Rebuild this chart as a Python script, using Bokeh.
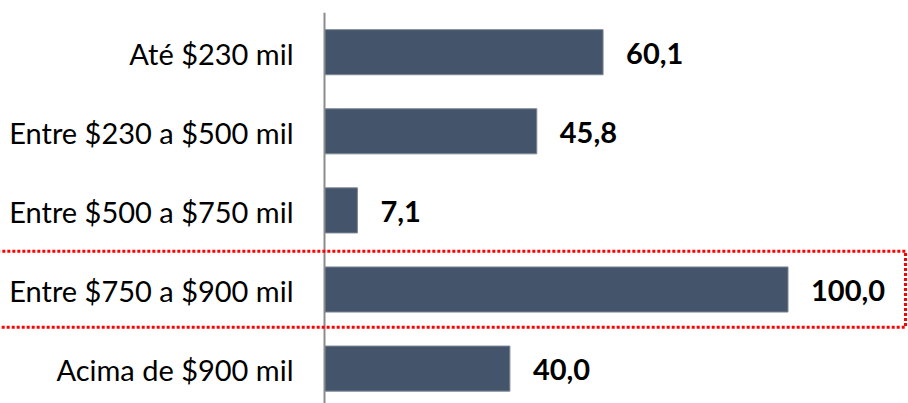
from bokeh.plotting import figure
from bokeh.models import Range1d, ColumnDataSource
from bokeh.core.properties import value
from bokeh.embed import file_html
from bokeh.resources import INLINE

categories = ["Até $230 mil", "Entre $230 a $500 mil", "Entre $500 a $750 mil",
              "Entre $750 a $900 mil", "Acima de $900 mil"]
values = [60.1, 45.8, 7.1, 100.0, 40.0]
value_labels = ["60,1", "45,8", "7,1", "100,0", "40,0"]
highlight = "Entre $750 a $900 mil"

W, H = 908, 403
PX_PER_UNIT = 4.635
AXIS_PX = 324          # axis position inside canvas
ROW_PX = 79.1
TOP_PX = 51.7          # first row center from canvas top

x0 = -AXIS_PX / PX_PER_UNIT
x1 = x0 + W / PX_PER_UNIT
y_top = -TOP_PX / ROW_PX
y_bot = y_top + H / ROW_PX

idx = list(range(len(categories)))
src = ColumnDataSource(dict(y=idx, v=values, cat=categories, lab=value_labels))

p = figure(width=W, height=H, output_backend="svg", toolbar_location=None,
           x_range=Range1d(x0, x1), y_range=Range1d(y_bot, y_top),
           min_border=0, min_border_left=0, min_border_right=0,
           min_border_top=0, min_border_bottom=0)
p.axis.visible = False
p.grid.visible = False
p.outline_line_color = None
p.background_fill_color = "white"
p.border_fill_color = "white"

p.hbar(y="y", left=0, right="v", height=0.57, source=src,
       fill_color="#44546A", line_color="#7d8796", line_width=1)

# vertical axis line
p.segment(x0=[0], y0=[-0.5], x1=[0], y1=[len(categories) + 1],
          line_color="#8c8c8c", line_width=2)

p.text(x=0, y="y", text="cat", source=src, x_offset=-31, y_offset=1,
       text_align="right", text_baseline="middle",
       text_font=value("Lato"), text_font_size="29px", text_color="black")

p.text(x="v", y="y", text="lab", source=src, x_offset=23, y_offset=1,
       text_align="left", text_baseline="middle",
       text_font=value("Lato"), text_font_size="29px", text_font_style="bold",
       text_color="black")

hi = categories.index(highlight)
right_edge = (905 - AXIS_PX) / PX_PER_UNIT
p.quad(left=[x0 - 5], right=[right_edge], top=[hi - 0.484], bottom=[hi + 0.477],
       fill_color=None, line_color="#FF0000", line_width=3, line_dash="3 2")

open("out.html", "w").write(file_html(p, INLINE))
